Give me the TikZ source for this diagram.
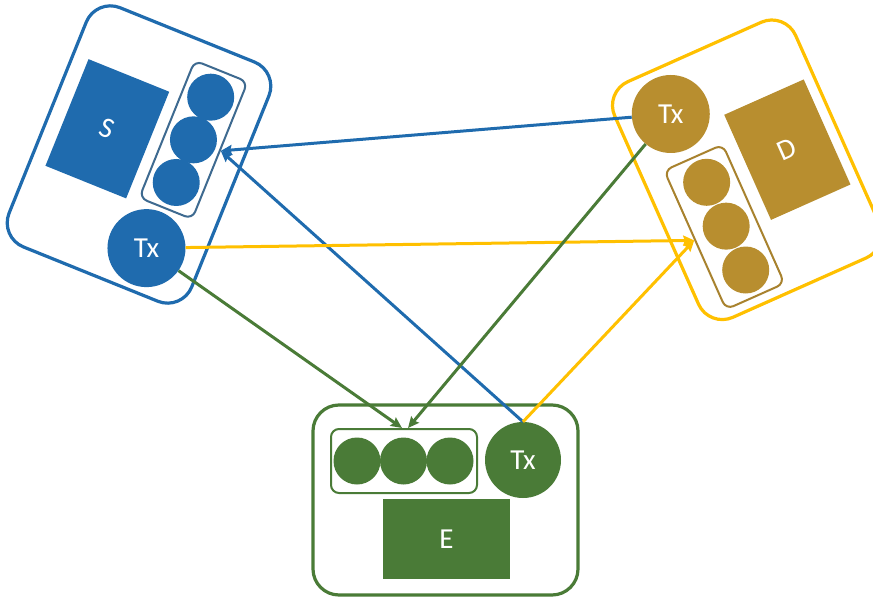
\documentclass[tikz,border=0pt]{standalone}
\usepackage{fontspec}
\setmainfont{Carlito}
\usetikzlibrary{arrows.meta}
\definecolor{sblue}{HTML}{1F6BAE}
\definecolor{sinner}{HTML}{3E6A90}
\definecolor{dgold}{HTML}{B88E2F}
\definecolor{dyellow}{HTML}{FFC000}
\definecolor{dinner}{HTML}{A8822E}
\definecolor{egreen}{HTML}{4A7B37}
\tikzset{
  outerbox/.style={draw, rectangle, rounded corners=26pt, line width=3.2pt, fill=white},
  innerbox/.style={draw, rectangle, rounded corners=8pt, line width=2pt},
  mainbox/.style={rectangle, text=white, font=\fontsize{29}{33}\selectfont},
  dot/.style={circle, minimum size=47pt, inner sep=0pt},
  txnode/.style={circle, minimum size=78pt, inner sep=0pt, text=white, font=\fontsize{29}{33}\selectfont},
  link/.style={line width=3pt, -{Stealth[length=11pt,width=10pt,inset=1.5pt]}},
}
\begin{document}
\begin{tikzpicture}[x=1pt,y=-1pt]
\useasboundingbox (0,0) rectangle (873,599);

% S group
\begin{scope}[shift={(139,154.5)}, rotate=-22]
  \node[outerbox, draw=sblue, minimum width=197pt, minimum height=258pt, transform shape] (sOuter) at (0,0) {};
  \node[mainbox, fill=sblue, minimum width=87pt, minimum height=115pt, transform shape] (sRect) at (-39,-12) {S};
  \node[innerbox, draw=sinner, minimum width=57pt, minimum height=148pt, transform shape] (sBox) at (45,-34) {};
  \node[dot, fill=sblue] (s1) at (45,-80) {};
  \node[dot, fill=sblue] (s2) at (45,-34) {};
  \node[dot, fill=sblue] (s3) at (45,12) {};
  \node[txnode, fill=sblue] (sTx) at (42,84) {Tx};
\end{scope}

% D group
\begin{scope}[shift={(743,170.5)}, rotate=24]
  \node[outerbox, draw=dyellow, minimum width=198pt, minimum height=258pt, transform shape] (dOuter) at (4,1) {};
  \node[mainbox, fill=dgold, minimum width=87pt, minimum height=115pt, transform shape] (dRect) at (49,-1) {D};
  \node[innerbox, draw=dinner, minimum width=64pt, minimum height=152pt, transform shape] (dBox) at (-40,44) {};
  \node[dot, fill=dgold] (d1) at (-38,-4) {};
  \node[dot, fill=dgold] (d2) at (-38,44) {};
  \node[dot, fill=dgold] (d3) at (-38,92) {};
  \node[txnode, fill=dgold] (dTx) at (-43,-81) {Tx};
\end{scope}

% E group
\node[outerbox, draw=egreen, minimum width=265pt, minimum height=190pt] (eOuter) at (445.5,500) {};
\node[mainbox, fill=egreen, minimum width=127pt, minimum height=80pt] (eRect) at (446.5,539) {E};
\node[innerbox, draw=egreen, minimum width=146pt, minimum height=64pt] (eBox) at (404,461) {};
\node[dot, fill=egreen] (e1) at (357,461) {};
\node[dot, fill=egreen] (e2) at (403.5,461) {};
\node[dot, fill=egreen] (e3) at (450,461) {};
\node[txnode, fill=egreen, minimum size=76pt] (eTx) at (523,460) {Tx};

% connectors
\draw[link, draw=sblue, fill=sblue] (dTx) -- (sBox.east);
\draw[link, draw=sblue, fill=sblue] (eTx.north) -- (sBox.east);
\draw[link, draw=dyellow, fill=dyellow] (sTx) -- (dBox.west);
\draw[link, draw=dyellow, fill=dyellow] (eTx.north) -- (dBox.west);
\draw[link, draw=egreen, fill=egreen] (sTx) -- ([xshift=-2pt]eBox.north);
\draw[link, draw=egreen, fill=egreen] (dTx) -- ([xshift=4pt]eBox.north);
\end{tikzpicture}
\end{document}
